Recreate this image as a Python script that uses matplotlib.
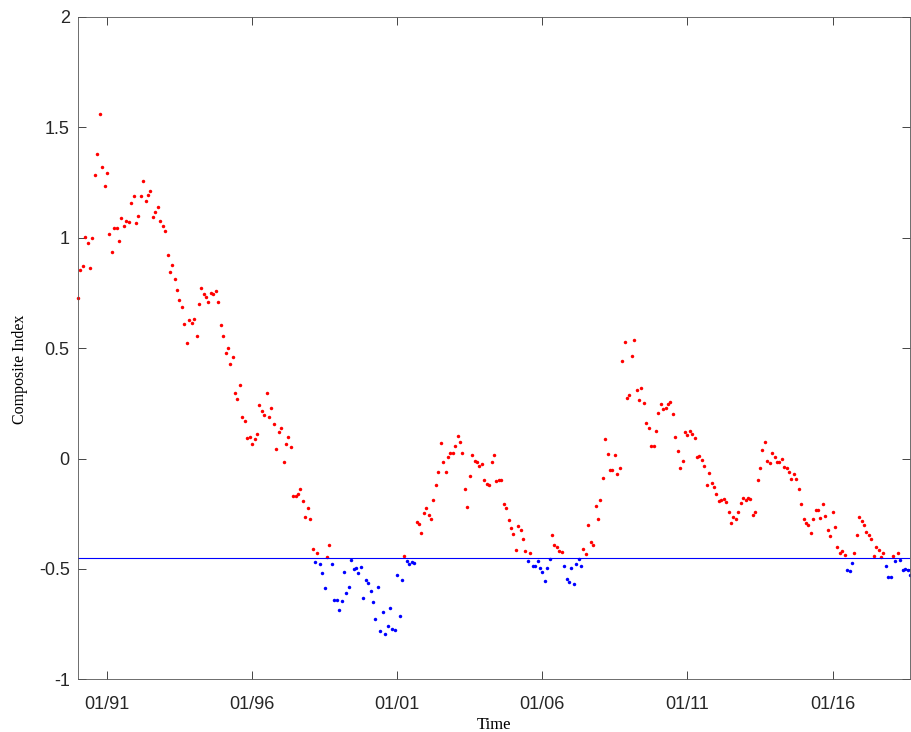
import numpy as np
import pandas as pd
import matplotlib
matplotlib.use('Agg')
import matplotlib.pyplot as plt

# monthly composite index, Jan 1990 onwards
start_month = '1990-01-01'
composite = [
    0.729, 0.853, 0.873, 1.003, 0.974, 0.862, 1.001, 1.282, 1.381, 1.560,
    1.320, 1.236, 1.295, 1.019, 0.935, 1.046, 1.042, 0.985, 1.090, 1.054,
    1.075, 1.072, 1.159, 1.190, 1.067, 1.099, 1.190, 1.255, 1.166, 1.193,
    1.212, 1.095, 1.117, 1.140, 1.077, 1.055, 1.031, 0.924, 0.843, 0.877,
    0.815, 0.764, 0.720, 0.686, 0.610, 0.524, 0.628, 0.613, 0.634, 0.554,
    0.702, 0.772, 0.747, 0.732, 0.707, 0.749, 0.746, 0.758, 0.708, 0.606,
    0.557, 0.480, 0.500, 0.430, 0.461, 0.299, 0.270, 0.331, 0.187, 0.172,
    0.092, 0.098, 0.068, 0.088, 0.113, 0.242, 0.215, 0.195, 0.299, 0.189,
    0.230, 0.157, 0.041, 0.118, 0.136, -0.014, 0.065, 0.098, 0.054, -0.172,
    -0.170, -0.160, -0.140, -0.193, -0.265, -0.222, -0.272, -0.412, -0.468, -0.428,
    -0.476, -0.518, -0.587, -0.445, -0.391, -0.480, -0.643, -0.639, -0.688, -0.644,
    -0.515, -0.610, -0.584, -0.459, -0.501, -0.498, -0.518, -0.490, -0.630, -0.551,
    -0.566, -0.598, -0.652, -0.725, -0.582, -0.782, -0.693, -0.793, -0.758, -0.675,
    -0.771, -0.777, -0.527, -0.712, -0.549, -0.442, -0.462, -0.480, -0.469, -0.472,
    -0.288, -0.296, -0.338, -0.247, -0.225, -0.256, -0.272, -0.187, -0.119, -0.063,
    0.072, -0.015, -0.063, 0.008, 0.027, 0.027, 0.058, 0.100, 0.076, 0.027,
    -0.140, -0.220, -0.077, 0.018, -0.012, -0.018, -0.032, -0.023, -0.098, -0.116,
    -0.122, -0.018, 0.017, -0.100, -0.096, -0.098, -0.204, -0.225, -0.278, -0.314,
    -0.341, -0.413, -0.306, -0.324, -0.365, -0.418, -0.466, -0.426, -0.486, -0.485,
    -0.463, -0.494, -0.515, -0.554, -0.496, -0.453, -0.347, -0.392, -0.403, -0.417,
    -0.423, -0.485, -0.545, -0.560, -0.498, -0.567, -0.478, -0.455, -0.487, -0.408,
    -0.432, -0.300, -0.380, -0.392, -0.217, -0.275, -0.189, -0.087, 0.089, 0.020,
    -0.054, -0.054, 0.018, -0.072, -0.045, 0.441, 0.530, 0.275, 0.288, 0.465,
    0.535, 0.310, 0.264, 0.319, 0.252, 0.162, 0.138, 0.058, 0.058, 0.124,
    0.208, 0.248, 0.224, 0.230, 0.248, 0.255, 0.202, 0.098, 0.035, -0.045,
    -0.009, 0.121, 0.106, 0.124, 0.110, 0.091, 0.006, 0.012, -0.007, -0.034,
    -0.118, -0.066, -0.111, -0.127, -0.159, -0.193, -0.188, -0.183, -0.195, -0.240,
    -0.291, -0.267, -0.273, -0.243, -0.202, -0.177, -0.187, -0.179, -0.183, -0.255,
    -0.241, -0.096, -0.042, 0.039, 0.074, -0.010, -0.019, 0.026, 0.009, -0.014,
    -0.018, 0.000, -0.038, -0.045, -0.060, -0.095, -0.072, -0.095, -0.139, -0.204,
    -0.273, -0.294, -0.300, -0.338, -0.274, -0.235, -0.234, -0.269, -0.205, -0.259,
    -0.323, -0.353, -0.241, -0.308, -0.403, -0.426, -0.417, -0.435, -0.503, -0.509,
    -0.472, -0.430, -0.346, -0.267, -0.281, -0.299, -0.332, -0.346, -0.365, -0.441,
    -0.400, -0.415, -0.445, -0.430, -0.487, -0.537, -0.537, -0.441, -0.462, -0.426,
    -0.459, -0.507, -0.501, -0.504, -0.528,
]
threshold = -0.45

xtick_dates = ['1991-01-01', '1996-01-01', '2001-01-01', '2006-01-01', '2011-01-01', '2016-01-01']
xtick_labels = ['01/91', '01/96', '01/01', '01/06', '01/11', '01/16']
ytick_vals = [-1, -0.5, 0, 0.5, 1, 1.5, 2]
ytick_labels = ['-1', '-0.5', '0', '0.5', '1', '1.5', '2']

dates = pd.date_range(start_month, periods=len(composite), freq='MS')
vals = np.array(composite)
above = vals >= threshold

fig = plt.figure(figsize=(9.11, 7.32), dpi=100)
ax = fig.add_axes([0.0856, 0.0720, 0.9133, 0.9048])

ax.plot(dates[above], vals[above], 'o', color='r', ms=2.5, mew=0, clip_on=False)
ax.plot(dates[~above], vals[~above], 'o', color='b', ms=2.5, mew=0, clip_on=False)
ax.axhline(threshold, color='b', lw=0.8)

ax.set_xlim(dates[0], dates[-1])
ax.set_ylim(-1, 2)
ax.set_xticks(pd.to_datetime(xtick_dates))
ax.set_xticklabels(xtick_labels)
ax.set_yticks(ytick_vals)
ax.set_yticklabels(ytick_labels)

for lbl in ax.get_xticklabels() + ax.get_yticklabels():
    lbl.set_fontfamily('Liberation Sans')
    lbl.set_fontsize(13)
    lbl.set_color('#262626')
ax.tick_params(axis='both', direction='in', length=6, width=0.6,
               color='#262626', top=True, right=True)
ax.tick_params(axis='x', pad=12)
ax.tick_params(axis='y', pad=6)
for sp in ax.spines.values():
    sp.set_linewidth(0.6)
    sp.set_color('#555555')

ax.set_ylabel('Composite Index', fontfamily='Liberation Serif', fontsize=11.5)
ax.yaxis.set_label_coords(-0.06, 0.468)
ax.set_xlabel('Time', fontfamily='Liberation Serif', fontsize=12, labelpad=3)

fig.savefig('out.png', dpi=100)
